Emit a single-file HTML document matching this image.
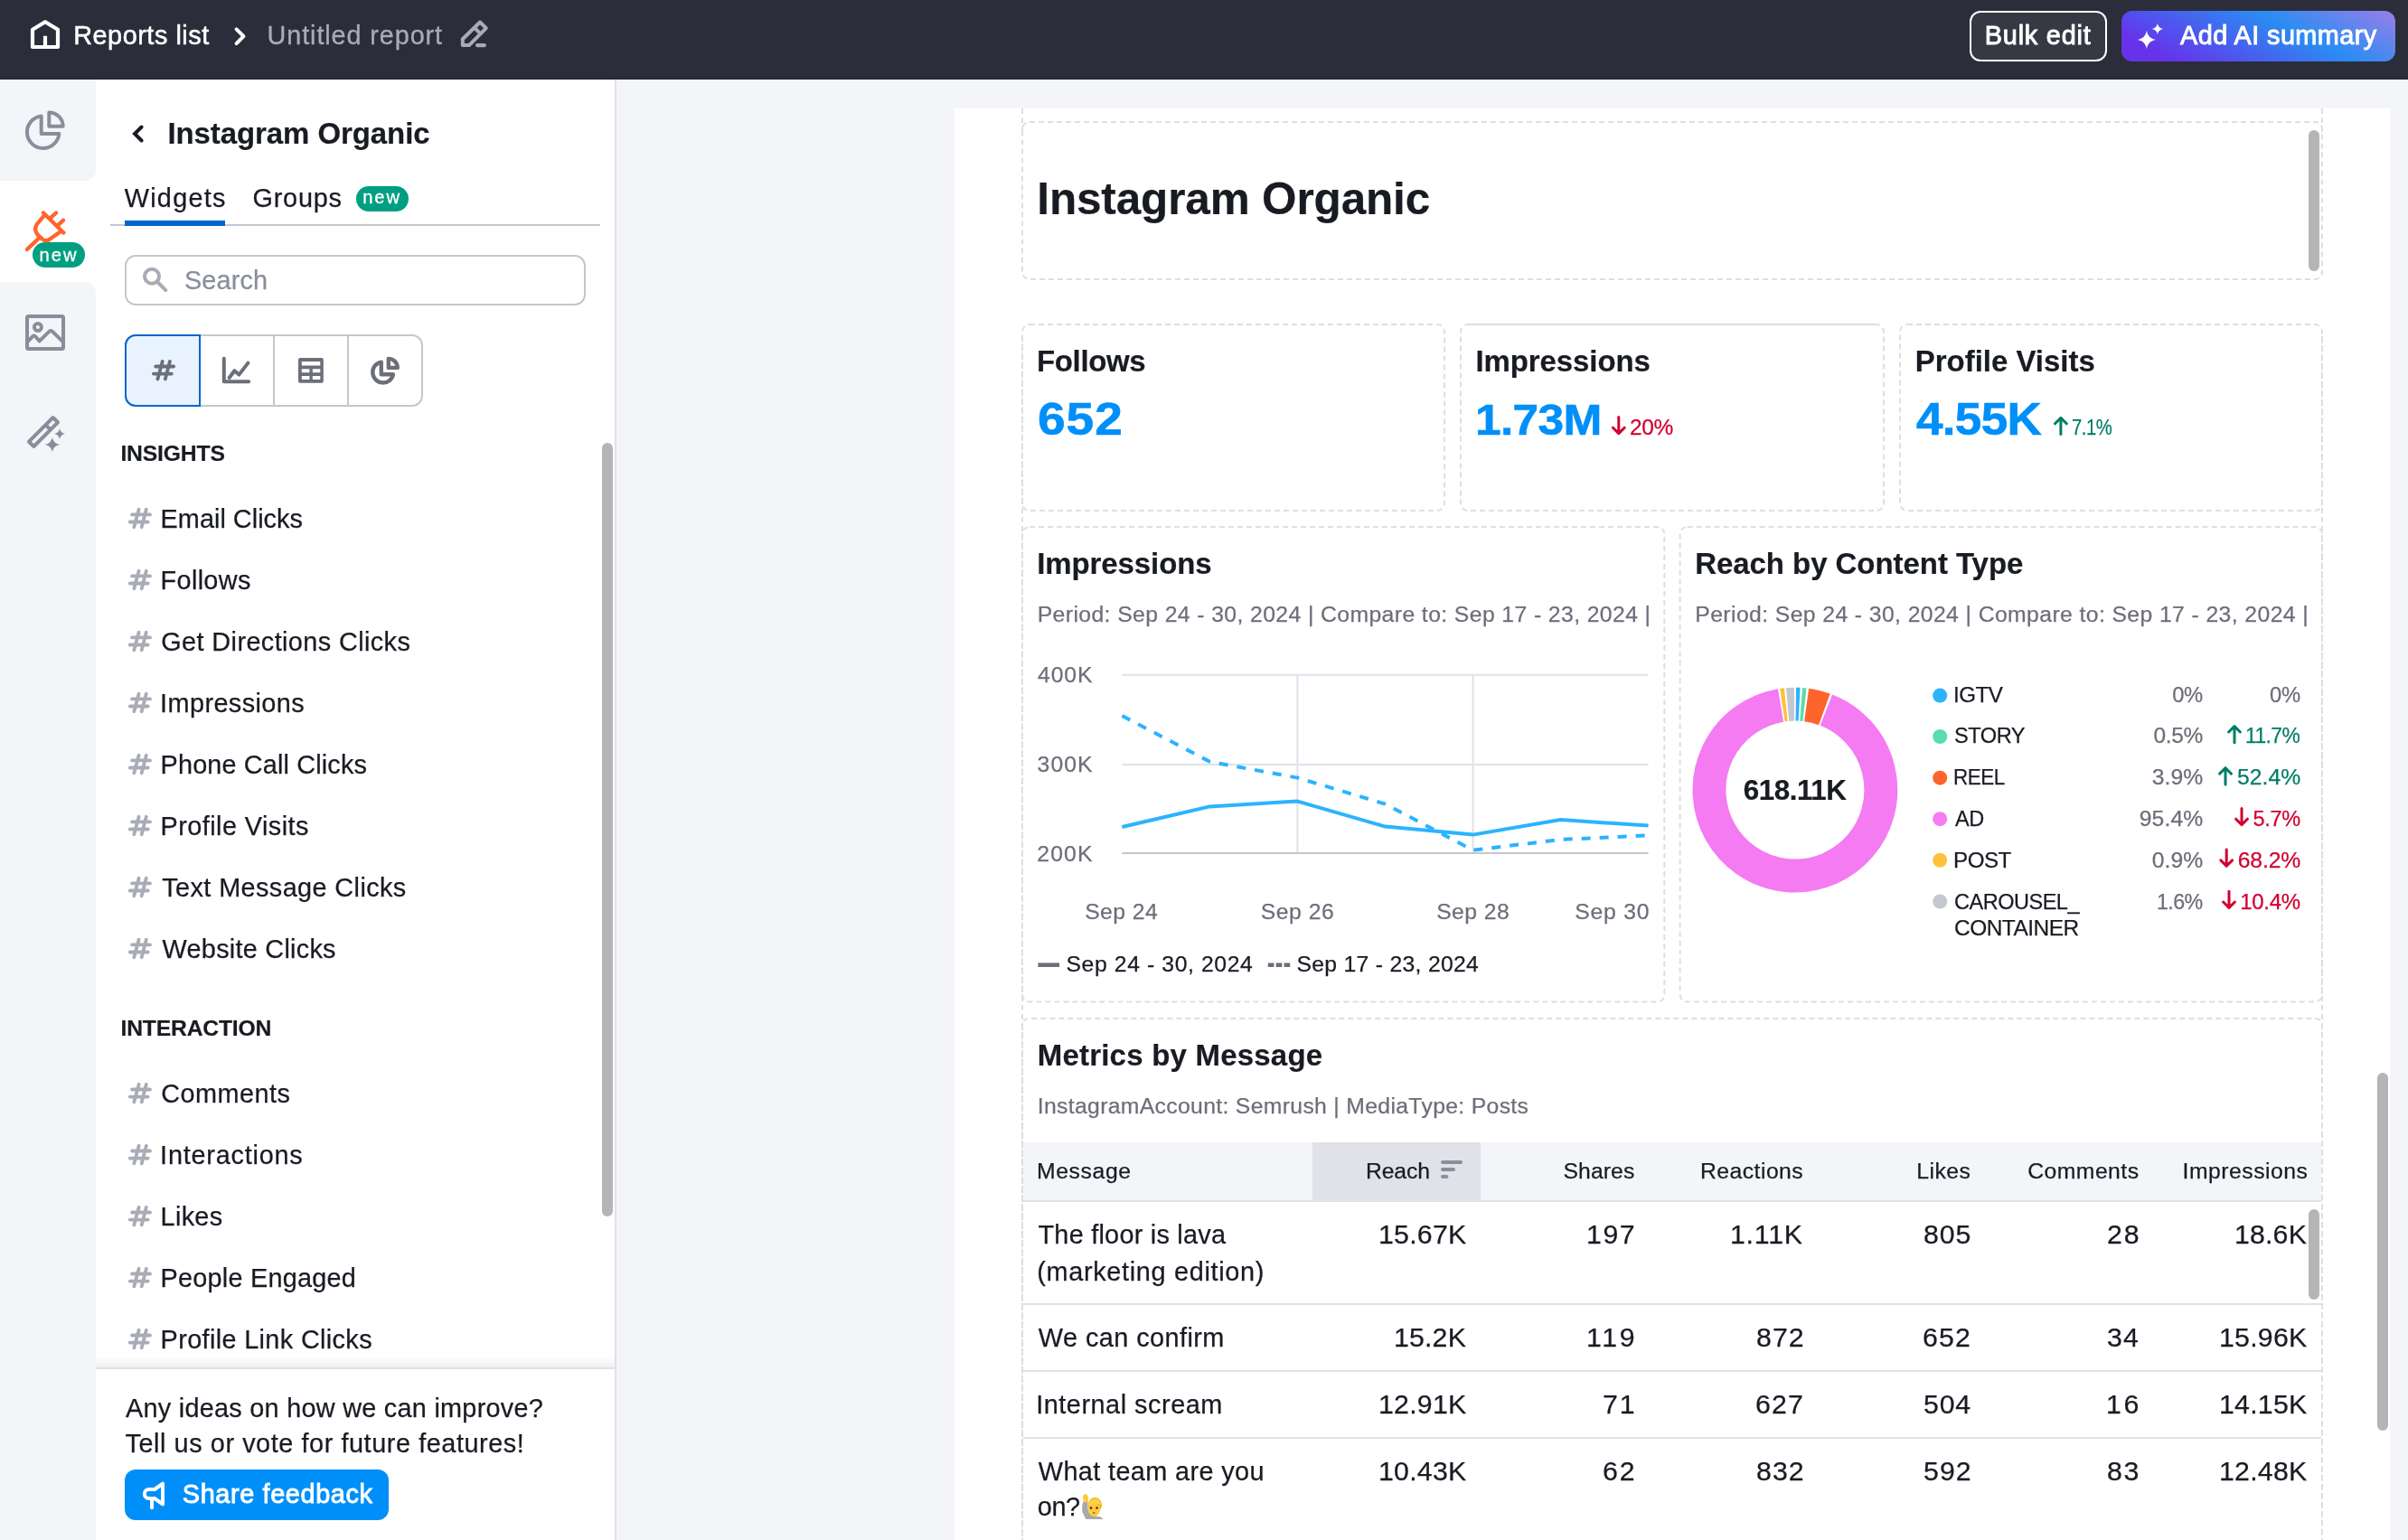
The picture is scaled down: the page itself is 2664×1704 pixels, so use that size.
<!DOCTYPE html>
<html lang="en">
<head>
<meta charset="utf-8">
<title>Untitled report</title>
<style>
*{box-sizing:border-box;margin:0;padding:0}
html,body{width:2664px;height:1704px;overflow:hidden;background:#F4F5F9;font-family:"Liberation Sans",sans-serif;}
.abs,.t,svg.ov{position:absolute}
.t{white-space:pre;font-family:"Liberation Sans",sans-serif;}
#topbar{left:0;top:0;width:2664px;height:88px;background:#2B2D3A;border-bottom:1px solid #22242F}
#panel{left:0;top:88px;width:680px;height:1616px;background:#FFFFFF}
#panelb{left:680px;top:88px;width:2px;height:1616px;background:#E0E1E9}
.rail{left:0;width:106px;background:#F4F5F9}
#page{left:1056px;top:120px;width:1588px;height:1584px;background:#FFFFFF}
.btn{border-radius:12px}
.badge{background:#009F81;border-radius:14px}
.sb{background:#B5B5B8;border-radius:6px}
.hl{background:#E0E1E9;height:2px}
</style>
</head>
<body>
<!-- top bar -->
<div id="topbar" class="abs"></div>
<div class="abs btn" style="left:2179px;top:12px;width:152px;height:56px;border:2px solid #FFFFFF;background:#363944"></div>
<div class="abs btn" style="left:2347px;top:12px;width:303px;height:56px;background:linear-gradient(27deg,#6633EA 0%,#6633EA 14%,#2A8DF2 63%,#9C7DE9 100%)"></div>

<!-- side panel -->
<div id="panel" class="abs"></div>
<div id="panelb" class="abs"></div>
<div class="abs rail" style="top:88px;height:112px;border-bottom-right-radius:12px"></div>
<div class="abs rail" style="top:312px;height:1392px;border-top-right-radius:12px"></div>
<div class="abs badge" style="left:36px;top:268px;width:58px;height:28px"></div>
<!-- tabs -->
<div class="abs" style="left:122px;top:248px;width:542px;height:2px;background:#C4C7CF"></div>
<div class="abs" style="left:138px;top:244px;width:111px;height:6px;background:#0066CC"></div>
<div class="abs badge" style="left:394px;top:206px;width:58px;height:28px"></div>
<!-- search -->
<div class="abs" style="left:138px;top:282px;width:510px;height:56px;border:2px solid #C4C7CF;border-radius:12px;background:#FFFFFF"></div>
<!-- button group -->
<div class="abs" style="left:138px;top:370px;width:330px;height:80px;border:2px solid #C4C7CF;border-radius:12px;background:#FFFFFF"></div>
<div class="abs" style="left:302px;top:370px;width:2px;height:80px;background:#C4C7CF"></div>
<div class="abs" style="left:384px;top:370px;width:2px;height:80px;background:#C4C7CF"></div>
<div class="abs" style="left:138px;top:370px;width:84px;height:80px;border:2px solid #0066CC;border-radius:12px 0 0 12px;background:#E9F3FF"></div>
<!-- panel scrollbar -->
<div class="abs sb" style="left:666px;top:490px;width:12px;height:856px"></div>
<!-- footer -->
<div class="abs" style="left:106px;top:1501px;width:574px;height:12px;background:linear-gradient(to bottom,rgba(25,27,35,0),rgba(25,27,35,0.07))"></div>
<div class="abs" style="left:106px;top:1513px;width:574px;height:191px;background:#FFFFFF;border-top:2px solid #E0E1E9"></div>
<div class="abs btn" style="left:138px;top:1626px;width:292px;height:56px;background:#008FF8"></div>

<!-- main page -->
<div id="page" class="abs"></div>
<!-- title widget scrollbar -->
<div class="abs sb" style="left:2554px;top:144px;width:12px;height:156px"></div>
<!-- table -->
<div class="abs" style="left:1132px;top:1264px;width:1436px;height:64px;background:#F4F5F9"></div>
<div class="abs" style="left:1452px;top:1264px;width:186px;height:64px;background:#E0E1E9"></div>
<div class="abs hl" style="left:1132px;top:1328px;width:1436px"></div>
<div class="abs hl" style="left:1132px;top:1442px;width:1436px"></div>
<div class="abs hl" style="left:1132px;top:1516px;width:1436px"></div>
<div class="abs hl" style="left:1132px;top:1590px;width:1436px"></div>
<div class="abs sb" style="left:2554px;top:1338px;width:12px;height:100px"></div>
<!-- page scrollbar -->
<div class="abs sb" style="left:2630px;top:1187px;width:12px;height:396px"></div>

<svg class="ov" style="left:0;top:0" width="2664" height="1704" viewBox="0 0 2664 1704" fill="none">
<path d="M36 32.8L50 24.2L64 32.8V52H36Z M50 39.7V52" stroke="#fff" stroke-width="4.2" stroke-linejoin="round"/>
<path d="M261.6 32.3L269.5 40.2L261.6 48.1" stroke="#fff" stroke-width="4" stroke-linecap="round" stroke-linejoin="round"/>
<g stroke="#A9ABB6" stroke-width="4" stroke-linejoin="round"><path d="M511.8 43.2L531 24.5L537.8 31.2L519 50.1H511.8Z"/><path d="M524.8 30.6L531.6 37.4"/></g>
<rect x="526" y="48" width="12" height="4.2" rx="2.1" fill="#A9ABB6"/>
<path d="M2374.9 33.8 C2375.88 39.72 2379.18 43.02 2385.1 44 C2379.18 44.98 2375.88 48.28 2374.9 54.2 C2373.92 48.28 2370.62 44.98 2364.7000000000003 44 C2370.62 43.02 2373.92 39.72 2374.9 33.8Z" fill="#fff"/>
<path d="M2386.9 25.7 C2387.50 29.30 2389.50 31.30 2393.1 31.9 C2389.50 32.50 2387.50 34.50 2386.9 38.1 C2386.30 34.50 2384.30 32.50 2380.7000000000003 31.9 C2384.30 31.30 2386.30 29.30 2386.9 25.7Z" fill="#fff"/>
<g transform="translate(47.7 146.2)" stroke="#8A8E9B" stroke-width="4"><path stroke-linejoin="round" d="M-2 -17.7A17.8 17.8 0 1 0 17.7 1.7H-2Z"/><path stroke-linejoin="round" d="M6.6 -6.4V-21.8A15.4 15.4 0 0 1 22 -6.4Z"/></g>
<g stroke="#FF642D" stroke-width="4.3" stroke-linecap="round" stroke-linejoin="round"><path d="M48 235.5L70.4 257.6"/><path d="M55.8 241.1L62.1 235.5M64.1 249.1L70.1 243.7"/><path d="M49.2 238.2L41.2 247.6Q37 253.5 41.4 259.4L46.8 264.6Q51.3 268 56 264L67 256.2"/><path d="M42.6 264L30 275.9"/></g>
<g stroke="#8A8E9B" stroke-width="4" stroke-linejoin="round"><rect x="30" y="350" width="40" height="36" rx="1.5"/><circle cx="41.9" cy="361.9" r="4"/><path d="M30 378.5L36 372.3Q37.6 371 39.2 372.3L43.6 377.4L54.6 366.6Q56.2 365.4 57.8 366.6L70 378.5"/></g>
<g stroke="#8A8E9B" stroke-width="4" stroke-linejoin="round"><path d="M58.6 462L64 467.3L37.4 494L32 488.7Z"/><path d="M50.5 470.2L55.8 475.5"/></g>
<path d="M66 474 C66.58 477.48 68.52 479.42 72 480 C68.52 480.58 66.58 482.52 66 486 C65.42 482.52 63.48 480.58 60 480 C63.48 479.42 65.42 477.48 66 474Z" fill="#8A8E9B"/>
<path d="M57.9 483.5 C58.71 488.37 61.43 491.09 66.3 491.9 C61.43 492.71 58.71 495.43 57.9 500.29999999999995 C57.09 495.43 54.37 492.71 49.5 491.9 C54.37 491.09 57.09 488.37 57.9 483.5Z" fill="#8A8E9B"/>
<path d="M156.6 140.5L149 148L156.6 155.5" stroke="#191B23" stroke-width="4" stroke-linecap="round" stroke-linejoin="miter"/>
<g stroke="#A9ABB6" stroke-width="4" stroke-linecap="round"><circle cx="168" cy="305.8" r="8"/><path d="M174.2 312L183.3 321.2"/></g>
<g transform="translate(168 398)" stroke="#6C6E79"><path stroke-width="3.8" stroke-linecap="round" d="M4.2 7.5H24.1M1.9 15.6H21.8M11.7 1.9L6.4 21.4M19.9 1.9L14.8 21.4"/></g>
<g stroke="#6C6E79" stroke-width="4" stroke-linecap="round" stroke-linejoin="round"><path d="M247.8 396.8V422.2H275.2"/><path d="M253.6 418L259.4 410.2L264.4 414.6L274.4 401.6"/></g>
<path fill-rule="evenodd" fill="#6C6E79" d="M332 396H355.8Q357.8 396 357.8 398V421.7Q357.8 423.7 355.8 423.7H332Q330 423.7 330 421.7V398Q330 396 332 396Z M333.8 400H354.3V404.4H333.8Z M333.8 408.2H342.4V412.2H333.8Z M345.8 408.2H354.3V412.2H345.8Z M333.8 416H342.4V420H333.8Z M345.8 416H354.3V420H345.8Z"/>
<g stroke="#6C6E79" stroke-width="4.4" stroke-linejoin="round"><path d="M421.8 400.6A11.5 11.5 0 1 0 435.05 414.3H421.8Z"/><path d="M429.8 406.9V396.9A10 10 0 0 1 439.8 406.9Z"/></g>
<g transform="translate(141.9 561.9)" stroke="#A9ABB6"><path stroke-width="3.8" stroke-linecap="round" d="M4.2 7.5H24.1M1.9 15.6H21.8M11.7 1.9L6.4 21.4M19.9 1.9L14.8 21.4"/></g>
<g transform="translate(141.9 629.9)" stroke="#A9ABB6"><path stroke-width="3.8" stroke-linecap="round" d="M4.2 7.5H24.1M1.9 15.6H21.8M11.7 1.9L6.4 21.4M19.9 1.9L14.8 21.4"/></g>
<g transform="translate(141.9 697.9)" stroke="#A9ABB6"><path stroke-width="3.8" stroke-linecap="round" d="M4.2 7.5H24.1M1.9 15.6H21.8M11.7 1.9L6.4 21.4M19.9 1.9L14.8 21.4"/></g>
<g transform="translate(141.9 765.9)" stroke="#A9ABB6"><path stroke-width="3.8" stroke-linecap="round" d="M4.2 7.5H24.1M1.9 15.6H21.8M11.7 1.9L6.4 21.4M19.9 1.9L14.8 21.4"/></g>
<g transform="translate(141.9 833.9)" stroke="#A9ABB6"><path stroke-width="3.8" stroke-linecap="round" d="M4.2 7.5H24.1M1.9 15.6H21.8M11.7 1.9L6.4 21.4M19.9 1.9L14.8 21.4"/></g>
<g transform="translate(141.9 901.9)" stroke="#A9ABB6"><path stroke-width="3.8" stroke-linecap="round" d="M4.2 7.5H24.1M1.9 15.6H21.8M11.7 1.9L6.4 21.4M19.9 1.9L14.8 21.4"/></g>
<g transform="translate(141.9 969.9)" stroke="#A9ABB6"><path stroke-width="3.8" stroke-linecap="round" d="M4.2 7.5H24.1M1.9 15.6H21.8M11.7 1.9L6.4 21.4M19.9 1.9L14.8 21.4"/></g>
<g transform="translate(141.9 1037.9)" stroke="#A9ABB6"><path stroke-width="3.8" stroke-linecap="round" d="M4.2 7.5H24.1M1.9 15.6H21.8M11.7 1.9L6.4 21.4M19.9 1.9L14.8 21.4"/></g>
<g transform="translate(141.9 1198.0)" stroke="#A9ABB6"><path stroke-width="3.8" stroke-linecap="round" d="M4.2 7.5H24.1M1.9 15.6H21.8M11.7 1.9L6.4 21.4M19.9 1.9L14.8 21.4"/></g>
<g transform="translate(141.9 1266.0)" stroke="#A9ABB6"><path stroke-width="3.8" stroke-linecap="round" d="M4.2 7.5H24.1M1.9 15.6H21.8M11.7 1.9L6.4 21.4M19.9 1.9L14.8 21.4"/></g>
<g transform="translate(141.9 1334.0)" stroke="#A9ABB6"><path stroke-width="3.8" stroke-linecap="round" d="M4.2 7.5H24.1M1.9 15.6H21.8M11.7 1.9L6.4 21.4M19.9 1.9L14.8 21.4"/></g>
<g transform="translate(141.9 1402.0)" stroke="#A9ABB6"><path stroke-width="3.8" stroke-linecap="round" d="M4.2 7.5H24.1M1.9 15.6H21.8M11.7 1.9L6.4 21.4M19.9 1.9L14.8 21.4"/></g>
<g transform="translate(141.9 1470.0)" stroke="#A9ABB6"><path stroke-width="3.8" stroke-linecap="round" d="M4.2 7.5H24.1M1.9 15.6H21.8M11.7 1.9L6.4 21.4M19.9 1.9L14.8 21.4"/></g>
<path d="M171 1648H164.8A5 5 0 0 0 164.8 1658H171L180 1664.4V1641.6Z M168 1658V1668.2" stroke="#fff" stroke-width="4" stroke-linecap="round" stroke-linejoin="round"/>
<g stroke="#DDDEE7" stroke-width="2" stroke-dasharray="6 4">
<path d="M1131 120V150"/><path d="M2569 120V150"/>
<path d="M1131 372V1704"/><path d="M2569 372V1704"/>
<rect x="1131" y="135" width="1438" height="174" rx="8"/>
<rect x="1131" y="359" width="467" height="206" rx="8"/>
<rect x="1616" y="359" width="468" height="206" rx="8"/>
<rect x="2102" y="359" width="467" height="206" rx="8"/>
<rect x="1131" y="583" width="710.4000000000001" height="525.5999999999999" rx="8"/>
<rect x="1858.6" y="583" width="710.4000000000001" height="525.5999999999999" rx="8"/>
<path d="M1131 1740V1135Q1131 1127 1139 1127H2561Q2569 1127 2569 1135V1740"/>
</g>
<path d="M1626 359H2074" stroke="#DDDEE7" stroke-width="2"/>
<g transform="translate(1790.8 480.6)" stroke="#D1002F"><path stroke-width="3" stroke-linecap="round" stroke-linejoin="round" d="M0 -19.2V-1M-6.4 -7.4L0 -1L6.4 -7.4"/></g>
<g transform="translate(2279.9 480.6)" stroke="#007C65"><path stroke-width="3" stroke-linecap="round" stroke-linejoin="round" d="M0 0V-18.2M-6.4 -11.8L0 -18.2L6.4 -11.8"/></g>
<path d="M1241.2 746.8H1823.6" stroke="#E0E1E9" stroke-width="2"/>
<path d="M1241.2 845.9H1823.6" stroke="#E0E1E9" stroke-width="2"/>
<path d="M1435.4 746.8V944" stroke="#E0E1E9" stroke-width="2"/>
<path d="M1629.6 746.8V944" stroke="#E0E1E9" stroke-width="2"/>
<path d="M1241.2 944H1823.6" stroke="#C4C7CF" stroke-width="2"/>
<path d="M1241.4 792.0 L1338.4 842.8 L1435.5 860.6 L1532.5 889.6 L1629.5 940.7 L1726.6 929.0 L1823.6 924.3" stroke="#2BB3FF" stroke-width="4" stroke-dasharray="10 10" stroke-linejoin="round"/>
<path d="M1241.4 915.0 L1338.4 892.4 L1435.5 886.6 L1532.5 914.6 L1629.5 923.6 L1726.6 907.0 L1823.6 913.6" stroke="#2BB3FF" stroke-width="4" stroke-linejoin="round"/>
<path d="M1148.4 1067.7H1172" stroke="#6C6E79" stroke-width="4.6"/>
<path d="M1402.8 1067.7H1427.2" stroke="#6C6E79" stroke-width="4.6" stroke-dasharray="6.6 2.3"/>
<path d="M1986.81 779.15 A94.95 94.95 0 0 1 1990.62 779.27" stroke="#2BB3FF" stroke-width="36.9"/>
<path d="M1992.69 779.39 A94.95 94.95 0 0 1 1996.48 779.74" stroke="#59DDAA" stroke-width="36.9"/>
<path d="M1998.62 780.01 A94.95 94.95 0 0 1 2018.37 784.88" stroke="#FF642D" stroke-width="36.9"/>
<path d="M2020.39 785.64 A94.95 94.95 0 1 1 1970.07 780.48" stroke="#F57BF2" stroke-width="36.9"/>
<path d="M1971.87 780.19 A94.95 94.95 0 0 1 1975.81 779.69" stroke="#FDC23C" stroke-width="36.9"/>
<path d="M1977.62 779.51 A94.95 94.95 0 0 1 1984.99 779.15" stroke="#C4C7CF" stroke-width="36.9"/>
<circle cx="2146.2" cy="769.6" r="8" fill="#2BB3FF"/>
<circle cx="2146.2" cy="815" r="8" fill="#59DDAA"/>
<circle cx="2146.2" cy="860.7" r="8" fill="#FF642D"/>
<circle cx="2146.2" cy="906.2" r="8" fill="#F57BF2"/>
<circle cx="2146.2" cy="951.8" r="8" fill="#FDC23C"/>
<circle cx="2146.2" cy="997.5" r="8" fill="#C4C7CF"/>
<g transform="translate(2472 821.8)" stroke="#007C65"><path stroke-width="3" stroke-linecap="round" stroke-linejoin="round" d="M0 0V-18.2M-6.4 -11.8L0 -18.2L6.4 -11.8"/></g>
<g transform="translate(2462 867.9)" stroke="#007C65"><path stroke-width="3" stroke-linecap="round" stroke-linejoin="round" d="M0 0V-18.2M-6.4 -11.8L0 -18.2L6.4 -11.8"/></g>
<g transform="translate(2480 913.6)" stroke="#D1002F"><path stroke-width="3" stroke-linecap="round" stroke-linejoin="round" d="M0 -19.2V-1M-6.4 -7.4L0 -1L6.4 -7.4"/></g>
<g transform="translate(2463.2 959.3)" stroke="#D1002F"><path stroke-width="3" stroke-linecap="round" stroke-linejoin="round" d="M0 -19.2V-1M-6.4 -7.4L0 -1L6.4 -7.4"/></g>
<g transform="translate(2466 1005.4)" stroke="#D1002F"><path stroke-width="3" stroke-linecap="round" stroke-linejoin="round" d="M0 -19.2V-1M-6.4 -7.4L0 -1L6.4 -7.4"/></g>
<g fill="#8A8E9B"><rect x="1594" y="1284" width="24" height="4" rx="2"/><rect x="1594" y="1292" width="16" height="4" rx="2"/><rect x="1594" y="1300" width="8.4" height="4" rx="2"/></g>
<g><path d="M1201.4 1681L1197.4 1673Q1196.3 1667 1198.2 1661.6L1203.6 1661.6Q1202.8 1668 1204.2 1672.5Q1207.5 1677.6 1212 1677.8Q1218.6 1677.6 1220.2 1681Z" fill="#A9A9AB"/><ellipse cx="1201.1" cy="1657.9" rx="3" ry="4.7" fill="#FFC83D" transform="rotate(-8 1201.1 1657.9)"/><ellipse cx="1211.4" cy="1665.2" rx="7.7" ry="8.2" fill="#F5B70F"/><ellipse cx="1210.4" cy="1670.6" rx="6.5" ry="7.3" fill="#FFCB3D"/><path d="M1203.6 1666.5Q1204.5 1659 1211.5 1658.5Q1217.5 1658.8 1218.4 1665.5Q1213 1662.3 1203.6 1666.5Z" fill="#FBD249"/><circle cx="1207" cy="1668.5" r="1.35" fill="#3A2A1A"/><circle cx="1213.6" cy="1668.5" r="1.35" fill="#3A2A1A"/><ellipse cx="1210.3" cy="1674" rx="1.2" ry="1" fill="#9A6A2A"/></g>
</svg>

<div id="tx" class="abs" style="left:0;top:0;width:2664px;height:1704px;will-change:transform">
<span class="t" style="left:81.2px;top:22px;font-size:28.84px;line-height:35px;letter-spacing:0.53px;color:#FFFFFF;-webkit-text-stroke:0.5px #FFFFFF;">Reports list</span>
<span class="t" style="left:295.6px;top:22px;font-size:28.84px;line-height:35px;letter-spacing:0.89px;color:#A9ABB6;-webkit-text-stroke:0.3px #A9ABB6;">Untitled report</span>
<span class="t" style="left:2195.8px;top:22px;font-size:28.84px;line-height:35px;letter-spacing:0.79px;color:#FFFFFF;-webkit-text-stroke:0.9px #FFFFFF;">Bulk edit</span>
<span class="t" style="left:2412.0px;top:22px;font-size:28.84px;line-height:35px;letter-spacing:0.44px;color:#FFFFFF;-webkit-text-stroke:0.9px #FFFFFF;">Add AI summary</span>
<span class="t" style="left:43.5px;top:270px;font-size:20.19px;line-height:24px;letter-spacing:1.98px;color:#FFFFFF;-webkit-text-stroke:0.3px #FFFFFF;">new</span>
<span class="t" style="left:185.4px;top:128px;font-size:32.96px;line-height:40px;letter-spacing:-0.06px;color:#191B23;font-weight:700;-webkit-text-stroke:0.2px #191B23;">Instagram Organic</span>
<span class="t" style="left:137.8px;top:202px;font-size:28.84px;line-height:35px;letter-spacing:1.23px;color:#191B23;-webkit-text-stroke:0.25px #191B23;">Widgets</span>
<span class="t" style="left:279.5px;top:202px;font-size:28.84px;line-height:35px;letter-spacing:0.80px;color:#191B23;-webkit-text-stroke:0.25px #191B23;">Groups</span>
<span class="t" style="left:401.2px;top:206px;font-size:20.19px;line-height:24px;letter-spacing:1.88px;color:#FFFFFF;-webkit-text-stroke:0.3px #FFFFFF;">new</span>
<span class="t" style="left:203.9px;top:293px;font-size:28.84px;line-height:35px;letter-spacing:0.17px;color:#8A8E9B;-webkit-text-stroke:0.25px #8A8E9B;">Search</span>
<span class="t" style="left:133.4px;top:487px;font-size:24.72px;line-height:30px;letter-spacing:-0.17px;color:#191B23;font-weight:700;-webkit-text-stroke:0.2px #191B23;">INSIGHTS</span>
<span class="t" style="left:177.6px;top:557px;font-size:28.84px;line-height:35px;letter-spacing:0.03px;color:#191B23;-webkit-text-stroke:0.25px #191B23;">Email Clicks</span>
<span class="t" style="left:177.6px;top:625px;font-size:28.84px;line-height:35px;letter-spacing:0.33px;color:#191B23;-webkit-text-stroke:0.25px #191B23;">Follows</span>
<span class="t" style="left:178.3px;top:693px;font-size:28.84px;line-height:35px;letter-spacing:0.40px;color:#191B23;-webkit-text-stroke:0.25px #191B23;">Get Directions Clicks</span>
<span class="t" style="left:177.1px;top:761px;font-size:28.84px;line-height:35px;letter-spacing:0.41px;color:#191B23;-webkit-text-stroke:0.25px #191B23;">Impressions</span>
<span class="t" style="left:177.6px;top:829px;font-size:28.84px;line-height:35px;letter-spacing:0.15px;color:#191B23;-webkit-text-stroke:0.25px #191B23;">Phone Call Clicks</span>
<span class="t" style="left:177.6px;top:897px;font-size:28.84px;line-height:35px;letter-spacing:0.44px;color:#191B23;-webkit-text-stroke:0.25px #191B23;">Profile Visits</span>
<span class="t" style="left:179.3px;top:965px;font-size:28.84px;line-height:35px;letter-spacing:0.40px;color:#191B23;-webkit-text-stroke:0.25px #191B23;">Text Message Clicks</span>
<span class="t" style="left:179.6px;top:1033px;font-size:28.84px;line-height:35px;letter-spacing:0.26px;color:#191B23;-webkit-text-stroke:0.25px #191B23;">Website Clicks</span>
<span class="t" style="left:133.6px;top:1123px;font-size:24.72px;line-height:30px;letter-spacing:-0.22px;color:#191B23;font-weight:700;-webkit-text-stroke:0.2px #191B23;">INTERACTION</span>
<span class="t" style="left:178.3px;top:1193px;font-size:28.84px;line-height:35px;letter-spacing:0.46px;color:#191B23;-webkit-text-stroke:0.25px #191B23;">Comments</span>
<span class="t" style="left:177.1px;top:1261px;font-size:28.84px;line-height:35px;letter-spacing:0.78px;color:#191B23;-webkit-text-stroke:0.25px #191B23;">Interactions</span>
<span class="t" style="left:177.6px;top:1329px;font-size:28.84px;line-height:35px;letter-spacing:0.30px;color:#191B23;-webkit-text-stroke:0.25px #191B23;">Likes</span>
<span class="t" style="left:177.6px;top:1397px;font-size:28.84px;line-height:35px;letter-spacing:0.23px;color:#191B23;-webkit-text-stroke:0.25px #191B23;">People Engaged</span>
<span class="t" style="left:177.6px;top:1465px;font-size:28.84px;line-height:35px;letter-spacing:0.36px;color:#191B23;-webkit-text-stroke:0.25px #191B23;">Profile Link Clicks</span>
<span class="t" style="left:139.0px;top:1541px;font-size:28.84px;line-height:35px;letter-spacing:0.27px;color:#191B23;-webkit-text-stroke:0.25px #191B23;">Any ideas on how we can improve?</span>
<span class="t" style="left:138.5px;top:1580px;font-size:28.84px;line-height:35px;letter-spacing:0.57px;color:#191B23;-webkit-text-stroke:0.25px #191B23;">Tell us or vote for future features!</span>
<span class="t" style="left:201.8px;top:1636px;font-size:28.84px;line-height:35px;letter-spacing:0.63px;color:#FFFFFF;-webkit-text-stroke:0.9px #FFFFFF;">Share feedback</span>
<span class="t" style="left:1147.3px;top:190px;font-size:49.44px;line-height:59px;letter-spacing:-0.12px;color:#191B23;font-weight:700;-webkit-text-stroke:0.2px #191B23;">Instagram Organic</span>
<span class="t" style="left:1147.0px;top:380px;font-size:32.96px;line-height:40px;letter-spacing:-0.33px;color:#191B23;font-weight:700;-webkit-text-stroke:0.2px #191B23;">Follows</span>
<span class="t" style="left:1632.5px;top:380px;font-size:32.96px;line-height:40px;letter-spacing:-0.08px;color:#191B23;font-weight:700;-webkit-text-stroke:0.2px #191B23;">Impressions</span>
<span class="t" style="left:2118.7px;top:380px;font-size:32.96px;line-height:40px;letter-spacing:0.01px;color:#191B23;font-weight:700;-webkit-text-stroke:0.2px #191B23;">Profile Visits</span>
<span class="t" style="left:1147.6px;top:434px;font-size:50.06px;line-height:60px;letter-spacing:0.90px;color:#008FF8;font-weight:700;-webkit-text-stroke:0.6px #008FF8;transform:scaleX(1.100);transform-origin:0 0;">652</span>
<span class="t" style="left:1631.8px;top:435px;font-size:48.6px;line-height:58px;letter-spacing:-0.65px;color:#008FF8;font-weight:700;-webkit-text-stroke:0.6px #008FF8;transform:scaleX(1.060);transform-origin:0 0;">1.73M</span>
<span class="t" style="left:2120.2px;top:434px;font-size:50.06px;line-height:60px;letter-spacing:-0.66px;color:#008FF8;font-weight:700;-webkit-text-stroke:0.6px #008FF8;transform:scaleX(1.060);transform-origin:0 0;">4.55K</span>
<span class="t" style="left:1803.0px;top:458px;font-size:24.48px;line-height:29px;letter-spacing:-0.40px;color:#D1002F;-webkit-text-stroke:0.25px #D1002F;">20%</span>
<span class="t" style="left:2291.9px;top:458px;font-size:24.0px;line-height:29px;letter-spacing:-0.60px;color:#007C65;-webkit-text-stroke:0.25px #007C65;transform:scaleX(0.844);transform-origin:0 0;">7.1%</span>
<span class="t" style="left:1147.2px;top:604px;font-size:32.96px;line-height:40px;letter-spacing:-0.07px;color:#191B23;font-weight:700;-webkit-text-stroke:0.2px #191B23;">Impressions</span>
<span class="t" style="left:1147.7px;top:665px;font-size:24.72px;line-height:30px;letter-spacing:0.41px;color:#6C6E79;-webkit-text-stroke:0.25px #6C6E79;">Period: Sep 24 - 30, 2024 | Compare to: Sep 17 - 23, 2024 |</span>
<span class="t" style="left:1148.1px;top:732px;font-size:24.72px;line-height:30px;letter-spacing:0.88px;color:#6C6E79;-webkit-text-stroke:0.25px #6C6E79;">400K</span>
<span class="t" style="left:1147.6px;top:831px;font-size:24.72px;line-height:30px;letter-spacing:1.05px;color:#6C6E79;-webkit-text-stroke:0.25px #6C6E79;">300K</span>
<span class="t" style="left:1147.3px;top:930px;font-size:24.72px;line-height:30px;letter-spacing:1.13px;color:#6C6E79;-webkit-text-stroke:0.25px #6C6E79;">200K</span>
<span class="t" style="left:1200.2px;top:994px;font-size:24.72px;line-height:30px;letter-spacing:0.42px;color:#6C6E79;-webkit-text-stroke:0.25px #6C6E79;">Sep 24</span>
<span class="t" style="left:1394.8px;top:994px;font-size:24.72px;line-height:30px;letter-spacing:0.52px;color:#6C6E79;-webkit-text-stroke:0.25px #6C6E79;">Sep 26</span>
<span class="t" style="left:1589.2px;top:994px;font-size:24.72px;line-height:30px;letter-spacing:0.44px;color:#6C6E79;-webkit-text-stroke:0.25px #6C6E79;">Sep 28</span>
<span class="t" style="left:1742.3px;top:994px;font-size:24.72px;line-height:30px;letter-spacing:0.75px;color:#6C6E79;-webkit-text-stroke:0.25px #6C6E79;">Sep 30</span>
<span class="t" style="left:1179.5px;top:1052px;font-size:24.72px;line-height:30px;letter-spacing:0.61px;color:#191B23;-webkit-text-stroke:0.25px #191B23;">Sep 24 - 30, 2024</span>
<span class="t" style="left:1434.5px;top:1052px;font-size:24.72px;line-height:30px;letter-spacing:0.30px;color:#191B23;-webkit-text-stroke:0.25px #191B23;">Sep 17 - 23, 2024</span>
<span class="t" style="left:1875.2px;top:604px;font-size:32.96px;line-height:40px;letter-spacing:-0.03px;color:#191B23;font-weight:700;-webkit-text-stroke:0.2px #191B23;">Reach by Content Type</span>
<span class="t" style="left:1875.3px;top:665px;font-size:24.72px;line-height:30px;letter-spacing:0.41px;color:#6C6E79;-webkit-text-stroke:0.25px #6C6E79;">Period: Sep 24 - 30, 2024 | Compare to: Sep 17 - 23, 2024 |</span>
<span class="t" style="left:1928.8px;top:856px;font-size:31.36px;line-height:38px;letter-spacing:-0.46px;color:#191B23;font-weight:700;-webkit-text-stroke:0.2px #191B23;">618.11K</span>
<span class="t" style="left:2161.0px;top:754px;font-size:24.72px;line-height:30px;letter-spacing:-0.49px;color:#191B23;-webkit-text-stroke:0.25px #191B23;transform:scaleX(0.976);transform-origin:0 0;">IGTV</span>
<span class="t" style="left:2162.0px;top:799px;font-size:24.72px;line-height:30px;letter-spacing:-0.49px;color:#191B23;-webkit-text-stroke:0.25px #191B23;transform:scaleX(0.954);transform-origin:0 0;">STORY</span>
<span class="t" style="left:2161.4px;top:845px;font-size:24.72px;line-height:30px;letter-spacing:-0.49px;color:#191B23;-webkit-text-stroke:0.25px #191B23;transform:scaleX(0.908);transform-origin:0 0;">REEL</span>
<span class="t" style="left:2163.2px;top:891px;font-size:24.72px;line-height:30px;letter-spacing:-0.49px;color:#191B23;-webkit-text-stroke:0.25px #191B23;transform:scaleX(0.949);transform-origin:0 0;">AD</span>
<span class="t" style="left:2161.2px;top:937px;font-size:24.72px;line-height:30px;letter-spacing:-0.49px;color:#191B23;-webkit-text-stroke:0.25px #191B23;transform:scaleX(0.977);transform-origin:0 0;">POST</span>
<span class="t" style="left:2162.0px;top:983px;font-size:24.72px;line-height:30px;letter-spacing:-0.49px;color:#191B23;-webkit-text-stroke:0.25px #191B23;transform:scaleX(0.950);transform-origin:0 0;">CAROUSEL_</span>
<span class="t" style="left:2162.0px;top:1012px;font-size:24.72px;line-height:30px;letter-spacing:-0.49px;color:#191B23;-webkit-text-stroke:0.25px #191B23;transform:scaleX(0.988);transform-origin:0 0;">CONTAINER</span>
<span class="t" style="left:2403.3px;top:754px;font-size:23.76px;line-height:29px;letter-spacing:-0.40px;color:#6C6E79;-webkit-text-stroke:0.25px #6C6E79;">0%</span>
<span class="t" style="left:2382.6px;top:799px;font-size:24.48px;line-height:29px;letter-spacing:-0.40px;color:#6C6E79;-webkit-text-stroke:0.25px #6C6E79;">0.5%</span>
<span class="t" style="left:2380.8px;top:845px;font-size:24.72px;line-height:30px;letter-spacing:0.03px;color:#6C6E79;-webkit-text-stroke:0.25px #6C6E79;">3.9%</span>
<span class="t" style="left:2366.7px;top:891px;font-size:24.72px;line-height:30px;letter-spacing:0.12px;color:#6C6E79;-webkit-text-stroke:0.25px #6C6E79;">95.4%</span>
<span class="t" style="left:2380.8px;top:937px;font-size:24.72px;line-height:30px;letter-spacing:0.03px;color:#6C6E79;-webkit-text-stroke:0.25px #6C6E79;">0.9%</span>
<span class="t" style="left:2385.8px;top:983px;font-size:24.0px;line-height:29px;letter-spacing:-0.60px;color:#6C6E79;-webkit-text-stroke:0.25px #6C6E79;transform:scaleX(0.969);transform-origin:0 0;">1.6%</span>
<span class="t" style="left:2511.0px;top:754px;font-size:23.76px;line-height:29px;letter-spacing:-0.20px;color:#6C6E79;-webkit-text-stroke:0.25px #6C6E79;">0%</span>
<span class="t" style="left:2484.3px;top:799px;font-size:24.0px;line-height:29px;letter-spacing:-0.60px;color:#007C65;-webkit-text-stroke:0.25px #007C65;transform:scaleX(0.950);transform-origin:0 0;">11.7%</span>
<span class="t" style="left:2475.0px;top:845px;font-size:24.72px;line-height:30px;letter-spacing:0.01px;color:#007C65;-webkit-text-stroke:0.25px #007C65;">52.4%</span>
<span class="t" style="left:2492.5px;top:892px;font-size:23.52px;line-height:28px;letter-spacing:-0.32px;color:#D1002F;-webkit-text-stroke:0.25px #D1002F;">5.7%</span>
<span class="t" style="left:2475.8px;top:937px;font-size:24.72px;line-height:30px;letter-spacing:-0.17px;color:#D1002F;-webkit-text-stroke:0.25px #D1002F;">68.2%</span>
<span class="t" style="left:2478.2px;top:983px;font-size:24.0px;line-height:29px;letter-spacing:-0.30px;color:#D1002F;-webkit-text-stroke:0.25px #D1002F;">10.4%</span>
<span class="t" style="left:1147.7px;top:1148px;font-size:32.96px;line-height:40px;letter-spacing:0.24px;color:#191B23;font-weight:700;-webkit-text-stroke:0.2px #191B23;">Metrics by Message</span>
<span class="t" style="left:1147.8px;top:1209px;font-size:24.72px;line-height:30px;letter-spacing:0.34px;color:#6C6E79;-webkit-text-stroke:0.25px #6C6E79;">InstagramAccount: Semrush | MediaType: Posts</span>
<span class="t" style="left:1147.0px;top:1281px;font-size:24.72px;line-height:30px;letter-spacing:0.62px;color:#191B23;-webkit-text-stroke:0.25px #191B23;">Message</span>
<span class="t" style="left:1511.0px;top:1281px;font-size:24.72px;line-height:30px;letter-spacing:-0.14px;color:#191B23;-webkit-text-stroke:0.25px #191B23;">Reach</span>
<span class="t" style="left:1729.5px;top:1281px;font-size:24.72px;line-height:30px;letter-spacing:0.09px;color:#191B23;-webkit-text-stroke:0.25px #191B23;">Shares</span>
<span class="t" style="left:1881.0px;top:1281px;font-size:24.72px;line-height:30px;letter-spacing:0.47px;color:#191B23;-webkit-text-stroke:0.25px #191B23;">Reactions</span>
<span class="t" style="left:2120.2px;top:1281px;font-size:24.72px;line-height:30px;letter-spacing:0.49px;color:#191B23;-webkit-text-stroke:0.25px #191B23;">Likes</span>
<span class="t" style="left:2243.2px;top:1281px;font-size:24.72px;line-height:30px;letter-spacing:0.48px;color:#191B23;-webkit-text-stroke:0.25px #191B23;">Comments</span>
<span class="t" style="left:2414.6px;top:1281px;font-size:24.72px;line-height:30px;letter-spacing:0.50px;color:#191B23;-webkit-text-stroke:0.25px #191B23;">Impressions</span>
<span class="t" style="left:1148.5px;top:1349px;font-size:28.84px;line-height:35px;letter-spacing:0.25px;color:#191B23;-webkit-text-stroke:0.25px #191B23;">The floor is lava</span>
<span class="t" style="left:1147.2px;top:1390px;font-size:28.84px;line-height:35px;letter-spacing:0.69px;color:#191B23;-webkit-text-stroke:0.25px #191B23;">(marketing edition)</span>
<span class="t" style="left:1148.8px;top:1463px;font-size:28.84px;line-height:35px;letter-spacing:0.45px;color:#191B23;-webkit-text-stroke:0.25px #191B23;">We can confirm</span>
<span class="t" style="left:1146.2px;top:1537px;font-size:28.84px;line-height:35px;letter-spacing:0.53px;color:#191B23;-webkit-text-stroke:0.25px #191B23;">Internal scream</span>
<span class="t" style="left:1148.8px;top:1611px;font-size:28.84px;line-height:35px;letter-spacing:0.38px;color:#191B23;-webkit-text-stroke:0.25px #191B23;">What team are you</span>
<span class="t" style="left:1147.8px;top:1650px;font-size:28.84px;line-height:35px;letter-spacing:-0.38px;color:#191B23;-webkit-text-stroke:0.25px #191B23;">on?</span>
<span class="t" style="left:1524.7px;top:1349px;font-size:28.84px;line-height:35px;letter-spacing:0.23px;color:#191B23;-webkit-text-stroke:0.25px #191B23;transform:scaleX(1.050);transform-origin:0 0;">15.67K</span>
<span class="t" style="left:1754.9px;top:1349px;font-size:28.84px;line-height:35px;letter-spacing:1.51px;color:#191B23;-webkit-text-stroke:0.25px #191B23;transform:scaleX(1.050);transform-origin:0 0;">197</span>
<span class="t" style="left:1914.3px;top:1349px;font-size:28.84px;line-height:35px;letter-spacing:0.73px;color:#191B23;-webkit-text-stroke:0.25px #191B23;transform:scaleX(1.050);transform-origin:0 0;">1.11K</span>
<span class="t" style="left:2127.7px;top:1349px;font-size:28.84px;line-height:35px;letter-spacing:0.89px;color:#191B23;-webkit-text-stroke:0.25px #191B23;transform:scaleX(1.050);transform-origin:0 0;">805</span>
<span class="t" style="left:2330.8px;top:1349px;font-size:28.84px;line-height:35px;letter-spacing:1.80px;color:#191B23;-webkit-text-stroke:0.25px #191B23;transform:scaleX(1.050);transform-origin:0 0;">28</span>
<span class="t" style="left:2472.3px;top:1349px;font-size:28.84px;line-height:35px;letter-spacing:0.17px;color:#191B23;-webkit-text-stroke:0.25px #191B23;transform:scaleX(1.050);transform-origin:0 0;">18.6K</span>
<span class="t" style="left:1542.0px;top:1463px;font-size:28.84px;line-height:35px;letter-spacing:0.17px;color:#191B23;-webkit-text-stroke:0.25px #191B23;transform:scaleX(1.050);transform-origin:0 0;">15.2K</span>
<span class="t" style="left:1754.9px;top:1463px;font-size:28.84px;line-height:35px;letter-spacing:2.51px;color:#191B23;-webkit-text-stroke:0.25px #191B23;transform:scaleX(1.050);transform-origin:0 0;">119</span>
<span class="t" style="left:1942.6px;top:1463px;font-size:28.84px;line-height:35px;letter-spacing:1.01px;color:#191B23;-webkit-text-stroke:0.25px #191B23;transform:scaleX(1.050);transform-origin:0 0;">872</span>
<span class="t" style="left:2127.4px;top:1463px;font-size:28.84px;line-height:35px;letter-spacing:1.14px;color:#191B23;-webkit-text-stroke:0.25px #191B23;transform:scaleX(1.050);transform-origin:0 0;">652</span>
<span class="t" style="left:2331.1px;top:1463px;font-size:28.84px;line-height:35px;letter-spacing:1.05px;color:#191B23;-webkit-text-stroke:0.25px #191B23;transform:scaleX(1.050);transform-origin:0 0;">34</span>
<span class="t" style="left:2455.0px;top:1463px;font-size:28.84px;line-height:35px;letter-spacing:0.23px;color:#191B23;-webkit-text-stroke:0.25px #191B23;transform:scaleX(1.050);transform-origin:0 0;">15.96K</span>
<span class="t" style="left:1524.7px;top:1537px;font-size:28.84px;line-height:35px;letter-spacing:0.23px;color:#191B23;-webkit-text-stroke:0.25px #191B23;transform:scaleX(1.050);transform-origin:0 0;">12.91K</span>
<span class="t" style="left:1773.0px;top:1537px;font-size:28.84px;line-height:35px;letter-spacing:1.80px;color:#191B23;-webkit-text-stroke:0.25px #191B23;transform:scaleX(1.050);transform-origin:0 0;">71</span>
<span class="t" style="left:1942.3px;top:1537px;font-size:28.84px;line-height:35px;letter-spacing:1.14px;color:#191B23;-webkit-text-stroke:0.25px #191B23;transform:scaleX(1.050);transform-origin:0 0;">627</span>
<span class="t" style="left:2127.7px;top:1537px;font-size:28.84px;line-height:35px;letter-spacing:0.76px;color:#191B23;-webkit-text-stroke:0.25px #191B23;transform:scaleX(1.050);transform-origin:0 0;">504</span>
<span class="t" style="left:2330.0px;top:1537px;font-size:28.84px;line-height:35px;letter-spacing:2.55px;color:#191B23;-webkit-text-stroke:0.25px #191B23;transform:scaleX(1.050);transform-origin:0 0;">16</span>
<span class="t" style="left:2455.0px;top:1537px;font-size:28.84px;line-height:35px;letter-spacing:0.23px;color:#191B23;-webkit-text-stroke:0.25px #191B23;transform:scaleX(1.050);transform-origin:0 0;">14.15K</span>
<span class="t" style="left:1524.7px;top:1611px;font-size:28.84px;line-height:35px;letter-spacing:0.23px;color:#191B23;-webkit-text-stroke:0.25px #191B23;transform:scaleX(1.050);transform-origin:0 0;">10.43K</span>
<span class="t" style="left:1773.0px;top:1611px;font-size:28.84px;line-height:35px;letter-spacing:1.80px;color:#191B23;-webkit-text-stroke:0.25px #191B23;transform:scaleX(1.050);transform-origin:0 0;">62</span>
<span class="t" style="left:1942.6px;top:1611px;font-size:28.84px;line-height:35px;letter-spacing:1.01px;color:#191B23;-webkit-text-stroke:0.25px #191B23;transform:scaleX(1.050);transform-origin:0 0;">832</span>
<span class="t" style="left:2127.7px;top:1611px;font-size:28.84px;line-height:35px;letter-spacing:1.01px;color:#191B23;-webkit-text-stroke:0.25px #191B23;transform:scaleX(1.050);transform-origin:0 0;">592</span>
<span class="t" style="left:2331.1px;top:1611px;font-size:28.84px;line-height:35px;letter-spacing:1.55px;color:#191B23;-webkit-text-stroke:0.25px #191B23;transform:scaleX(1.050);transform-origin:0 0;">83</span>
<span class="t" style="left:2455.0px;top:1611px;font-size:28.84px;line-height:35px;letter-spacing:0.23px;color:#191B23;-webkit-text-stroke:0.25px #191B23;transform:scaleX(1.050);transform-origin:0 0;">12.48K</span>
</div>
</body>
</html>
